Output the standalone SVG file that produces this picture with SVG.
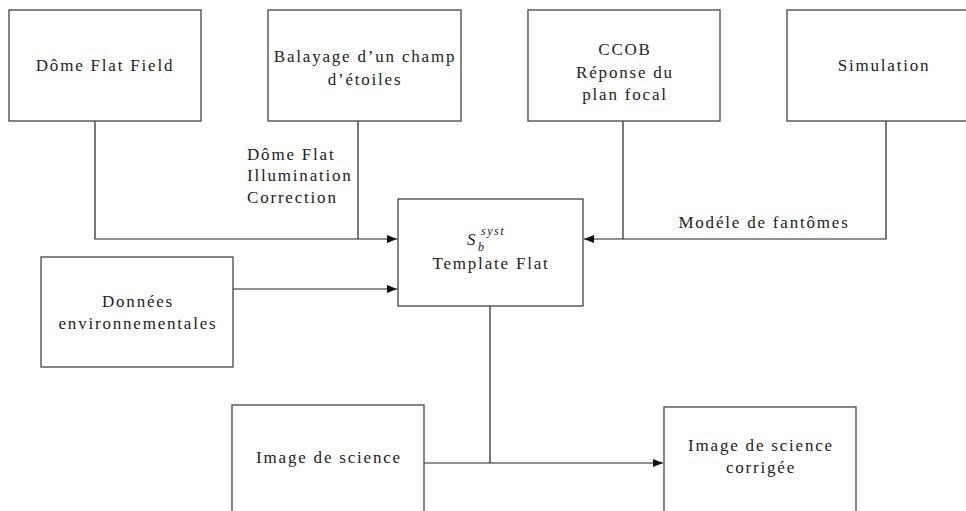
<svg xmlns="http://www.w3.org/2000/svg" width="966" height="511" viewBox="0 0 966 511">
<style>
.box{fill:#fff;stroke:#444;stroke-width:1.3}
.t{font-family:"Liberation Serif",serif;font-size:17px;letter-spacing:1.8px;fill:#222;text-anchor:middle}
.tl{font-family:"Liberation Serif",serif;font-size:17px;letter-spacing:1.8px;fill:#222}
.m{font-family:"Liberation Serif",serif;font-style:italic;fill:#222}
.c{fill:none;stroke:#222;stroke-width:1.2}
</style>
<defs>
<marker id="ah" viewBox="0 0 10 8" refX="10" refY="4" markerWidth="10" markerHeight="8" markerUnits="userSpaceOnUse" orient="auto">
<path d="M0,0 L10,4 L0,8 z" fill="#111"/>
</marker>
</defs>
<rect width="966" height="511" fill="#fff"/>
<g id="connectors">
<polyline class="c" points="95,121 95,239 397,239" marker-end="url(#ah)"/>
<line class="c" x1="358" y1="121" x2="358" y2="239"/>
<line class="c" x1="623" y1="121" x2="623" y2="239"/>
<polyline class="c" points="886,121 886,239 584,239" marker-end="url(#ah)"/>
<line class="c" x1="233" y1="289" x2="397" y2="289" marker-end="url(#ah)"/>
<line class="c" x1="490" y1="306" x2="490" y2="463"/>
<line class="c" x1="424" y1="463" x2="663" y2="463" marker-end="url(#ah)"/>
<text class="tl" x="247" y="160">Dôme Flat</text>
<text class="tl" x="247" y="181">Illumination</text>
<text class="tl" x="247" y="203">Correction</text>
<text class="t" x="764" y="228">Modéle de fantômes</text>
</g>
<g id="dome">
<rect class="box" x="9" y="10" width="192" height="111"/>
<text class="t" x="105" y="71">Dôme Flat Field</text>
</g>
<g id="balayage">
<rect class="box" x="268" y="10" width="193" height="111"/>
<text class="t" x="365" y="62">Balayage d’un champ</text>
<text class="t" x="365" y="85">d’étoiles</text>
</g>
<g id="ccob">
<rect class="box" x="528" y="10" width="192" height="111"/>
<text class="t" x="625" y="55">CCOB</text>
<text class="t" x="625" y="78">Réponse du</text>
<text class="t" x="625" y="100">plan focal</text>
</g>
<g id="simulation">
<rect class="box" x="787" y="10" width="192" height="111"/>
<text class="t" x="884" y="71">Simulation</text>
</g>
<g id="template">
<rect class="box" x="398" y="199" width="185" height="107"/>
<text class="m" x="467" y="245" font-size="17">S<tspan x="481" y="235" font-size="12" letter-spacing="1.5">syst</tspan><tspan x="478" y="251" font-size="12">b</tspan></text>
<text class="t" x="491" y="269">Template Flat</text>
</g>
<g id="donnees">
<rect class="box" x="41" y="257" width="192" height="110"/>
<text class="t" x="138" y="307">Données</text>
<text class="t" x="138" y="329">environnementales</text>
</g>
<g id="image">
<rect class="box" x="232" y="405" width="192" height="120"/>
<text class="t" x="329" y="463">Image de science</text>
</g>
<g id="corrigee">
<rect class="box" x="664" y="407" width="192" height="120"/>
<text class="t" x="761" y="451">Image de science</text>
<text class="t" x="761" y="473">corrigée</text>
</g>
</svg>
